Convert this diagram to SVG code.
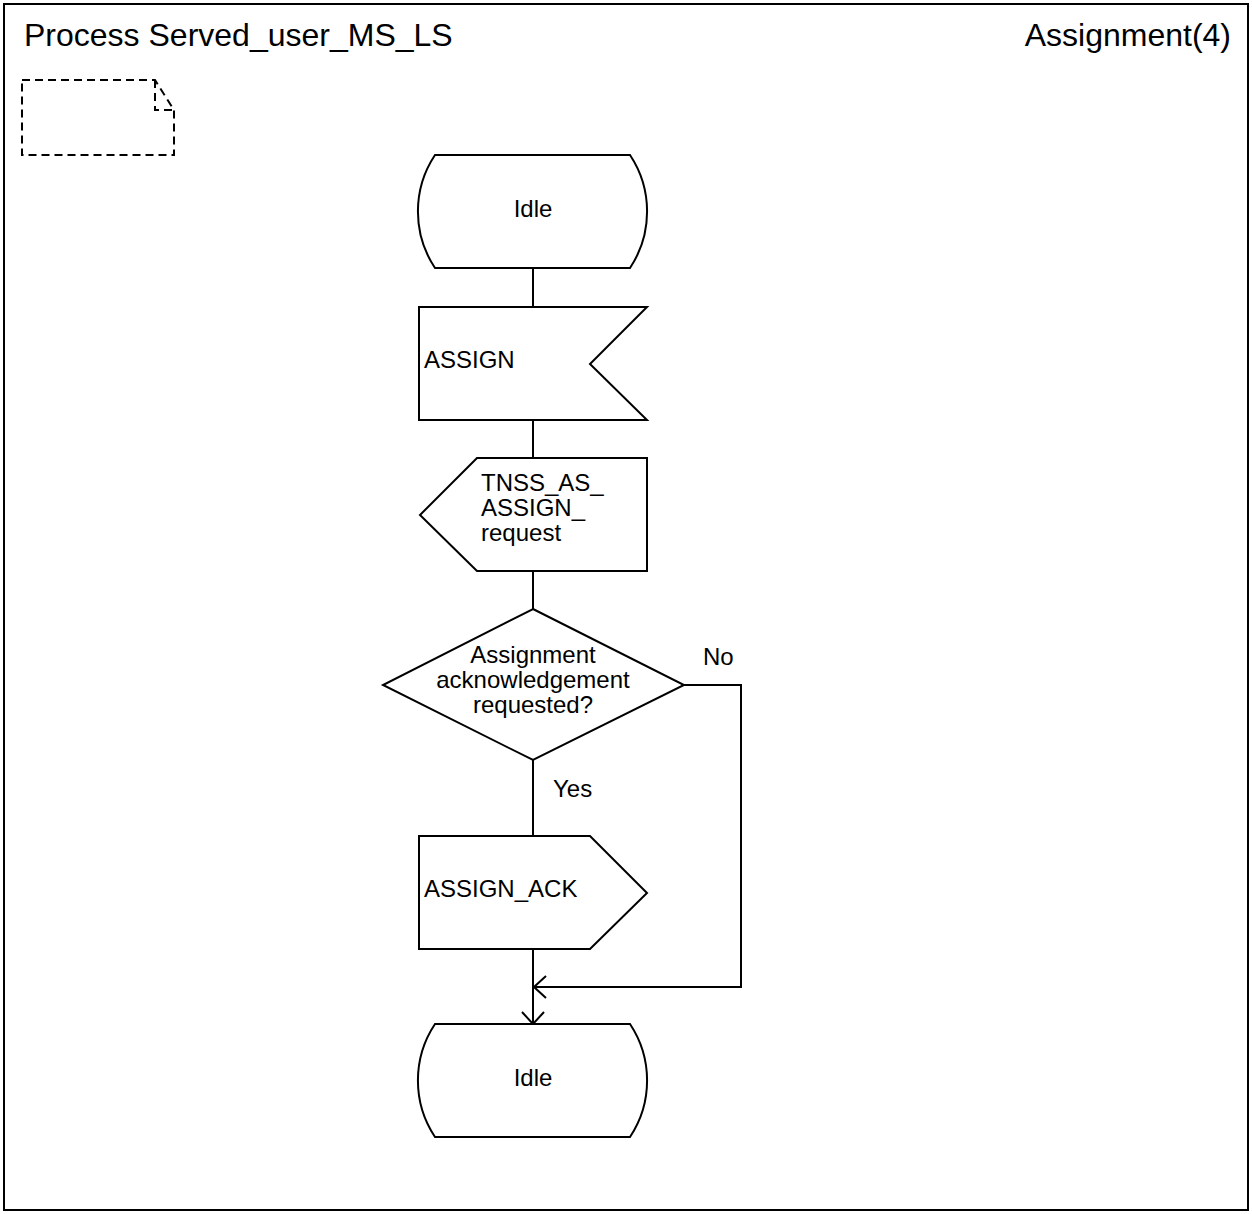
<svg xmlns="http://www.w3.org/2000/svg" width="1252" height="1214" viewBox="0 0 1252 1214">
<style>
.s{fill:#fff;stroke:#000;stroke-width:2}
.l{fill:none;stroke:#000;stroke-width:2}
.d{fill:none;stroke:#000;stroke-width:2;stroke-dasharray:8,5}
text{font-family:"Liberation Sans",Arial,sans-serif;font-size:24px;fill:#000}
.t{font-size:32px}
.m{text-anchor:middle}
</style>
<defs>
<marker id="ah" viewBox="0 0 14 24" refX="13" refY="12" markerWidth="14" markerHeight="24" markerUnits="userSpaceOnUse" orient="auto">
<path d="M1,1 L13,12 L1,23" fill="none" stroke="#000" stroke-width="2"/>
</marker>
</defs>
<rect x="0" y="0" width="1252" height="1214" fill="#fff"/>
<rect x="4" y="4" width="1244" height="1206" class="l"/>
<text class="t" x="24" y="46">Process Served_user_MS_LS</text>
<text class="t" x="1231" y="46" text-anchor="end">Assignment(4)</text>
<g id="note">
<path class="d" d="M22,80 H155 L174,110 V155 H22 Z"/>
<path class="d" d="M155,80 V110 H174"/>
</g>
<g id="connectors">
<line class="l" x1="533" y1="268" x2="533" y2="307"/>
<line class="l" x1="533" y1="420" x2="533" y2="458"/>
<line class="l" x1="533" y1="571" x2="533" y2="609"/>
<line class="l" x1="533" y1="759" x2="533" y2="836"/>
<line class="l" x1="533" y1="949" x2="533" y2="1024" marker-end="url(#ah)"/>
<polyline class="l" points="684,685 741,685 741,987 534,987" marker-end="url(#ah)"/>
<text x="703" y="665">No</text>
<text x="553" y="797">Yes</text>
</g>
<g id="idle1">
<path class="s" d="M435,155 H630 A102,102 0 0 1 630,268 H435 A102,102 0 0 1 435,155 Z"/>
<text class="m" x="533" y="217">Idle</text>
</g>
<g id="assign">
<path class="s" d="M419,307 H647 L590,364 L647,420 H419 Z"/>
<text x="424" y="368">ASSIGN</text>
</g>
<g id="tnss">
<path class="s" d="M477,458 H647 V571 H477 L420,515 Z"/>
<text x="481" y="491">TNSS_AS_</text>
<text x="481" y="516">ASSIGN_</text>
<text x="481" y="541">request</text>
</g>
<g id="decision">
<path class="s" d="M533,609 L684,685 L533,760 L383,685 Z"/>
<text class="m" x="533" y="663">Assignment</text>
<text class="m" x="533" y="688">acknowledgement</text>
<text class="m" x="533" y="713">requested?</text>
</g>
<g id="assign_ack">
<path class="s" d="M419,836 H590 L647,893 L590,949 H419 Z"/>
<text x="424" y="897">ASSIGN_ACK</text>
</g>
<g id="idle2">
<path class="s" d="M435,1024 H630 A102,102 0 0 1 630,1137 H435 A102,102 0 0 1 435,1024 Z"/>
<text class="m" x="533" y="1086">Idle</text>
</g>
</svg>
